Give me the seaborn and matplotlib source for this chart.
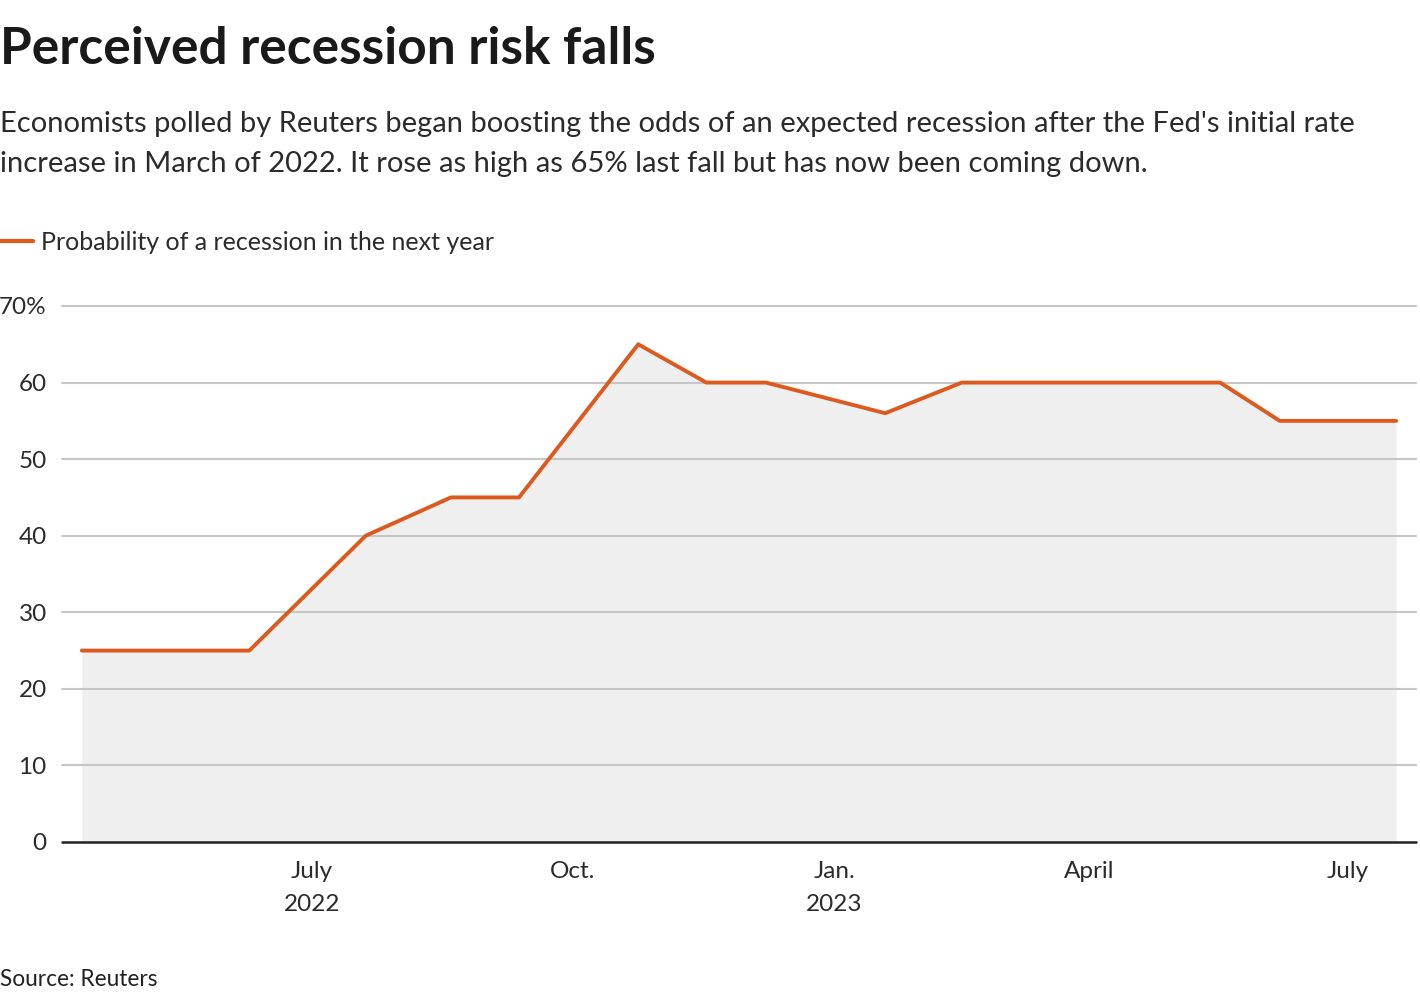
import matplotlib
matplotlib.use("Agg")
import matplotlib.pyplot as plt
import seaborn as sns
import pandas as pd

# ---- data ----
poll_dates = ["2022-04-11", "2022-05-12", "2022-06-09", "2022-07-20", "2022-08-19",
              "2022-09-12", "2022-10-24", "2022-11-17", "2022-12-08", "2023-01-19",
              "2023-02-15", "2023-03-15", "2023-04-17", "2023-05-17", "2023-06-07",
              "2023-07-18"]
recession_prob = [25, 25, 25, 40, 45, 45, 65, 60, 60, 56, 60, 60, 60, 60, 55, 55]
y_ticks = [0, 10, 20, 30, 40, 50, 60, 70]
y_tick_labels = ["0", "10", "20", "30", "40", "50", "60", "70%"]
x_tick_dates = ["2022-07-01", "2022-10-01", "2023-01-01", "2023-04-01", "2023-07-01"]
x_tick_labels = ["July\n2022", "Oct.", "Jan.\n2023", "April", "July"]
series_name = "Probability of a recession in the next year"

title = "Perceived recession risk falls"
subtitle = ("Economists polled by Reuters began boosting the odds of an expected recession after the Fed's initial rate\n"
            "increase in March of 2022. It rose as high as 65% last fall but has now been coming down.")
source = "Source: Reuters"

df = pd.DataFrame({"date": pd.to_datetime(poll_dates), "value": recession_prob})

sns.set_theme(style="white")
plt.rcParams["font.family"] = ["Lato", "DejaVu Sans"]

W, H = 1420, 1000
fig = plt.figure(figsize=(W / 100, H / 100), dpi=100)
ax = fig.add_axes([62 / W, 1 - 842 / H, (1416 - 62) / W, (842 - 306) / H])

LINE = "#dc5a1e"
TXT = "#2b2b2b"
ax.fill_between(df["date"], df["value"], 0, color="#efefef", lw=0, zorder=1)
sns.lineplot(data=df, x="date", y="value", ax=ax, color=LINE, linewidth=2.8,
             label=series_name, zorder=3, legend=False)

ax.set_ylim(0, 70)
ax.set_xlim(pd.Timestamp("2022-04-04"), pd.Timestamp("2023-07-25"))
ax.set_yticks(y_ticks)
ax.set_yticklabels(y_tick_labels)
ax.set_xticks(pd.to_datetime(x_tick_dates))
ax.set_xticklabels(x_tick_labels, linespacing=1.7)

for v in y_ticks[1:]:
    ax.axhline(v, color="#c6c6c6", lw=1.5, zorder=2, clip_on=False)
ax.axhline(0, color="#222222", lw=1.8, zorder=4, clip_on=False)

for s in ax.spines.values():
    s.set_visible(False)
ax.tick_params(axis="both", length=0, labelsize=17.5, colors=TXT)
ax.tick_params(axis="y", pad=11)
ax.tick_params(axis="x", pad=14)
ax.set_xlabel("")
ax.set_ylabel("")
ax.grid(False)

fig.text(0.0, 1 - 50 / H, title, fontsize=37, fontweight="bold", color="#1a1a1a",
         va="center", ha="left")
fig.text(0.0, 1 - 144 / H, subtitle, fontsize=21, color=TXT,
         va="center", ha="left", linespacing=1.65)

handles = [plt.Line2D([], [], color=LINE, lw=3.0)]
leg = fig.legend(handles, [series_name], loc="center left",
                 bbox_to_anchor=(0.0, 1 - 242 / H), frameon=False,
                 borderaxespad=0, borderpad=0, handlelength=1.3, handletextpad=0.35,
                 prop={"size": 18})
for t in leg.get_texts():
    t.set_color(TXT)

fig.text(0.0, 1 - 980 / H, source, fontsize=16.3, color="#222222", va="center", ha="left")

fig.savefig("out.png", dpi=100, facecolor="white")
